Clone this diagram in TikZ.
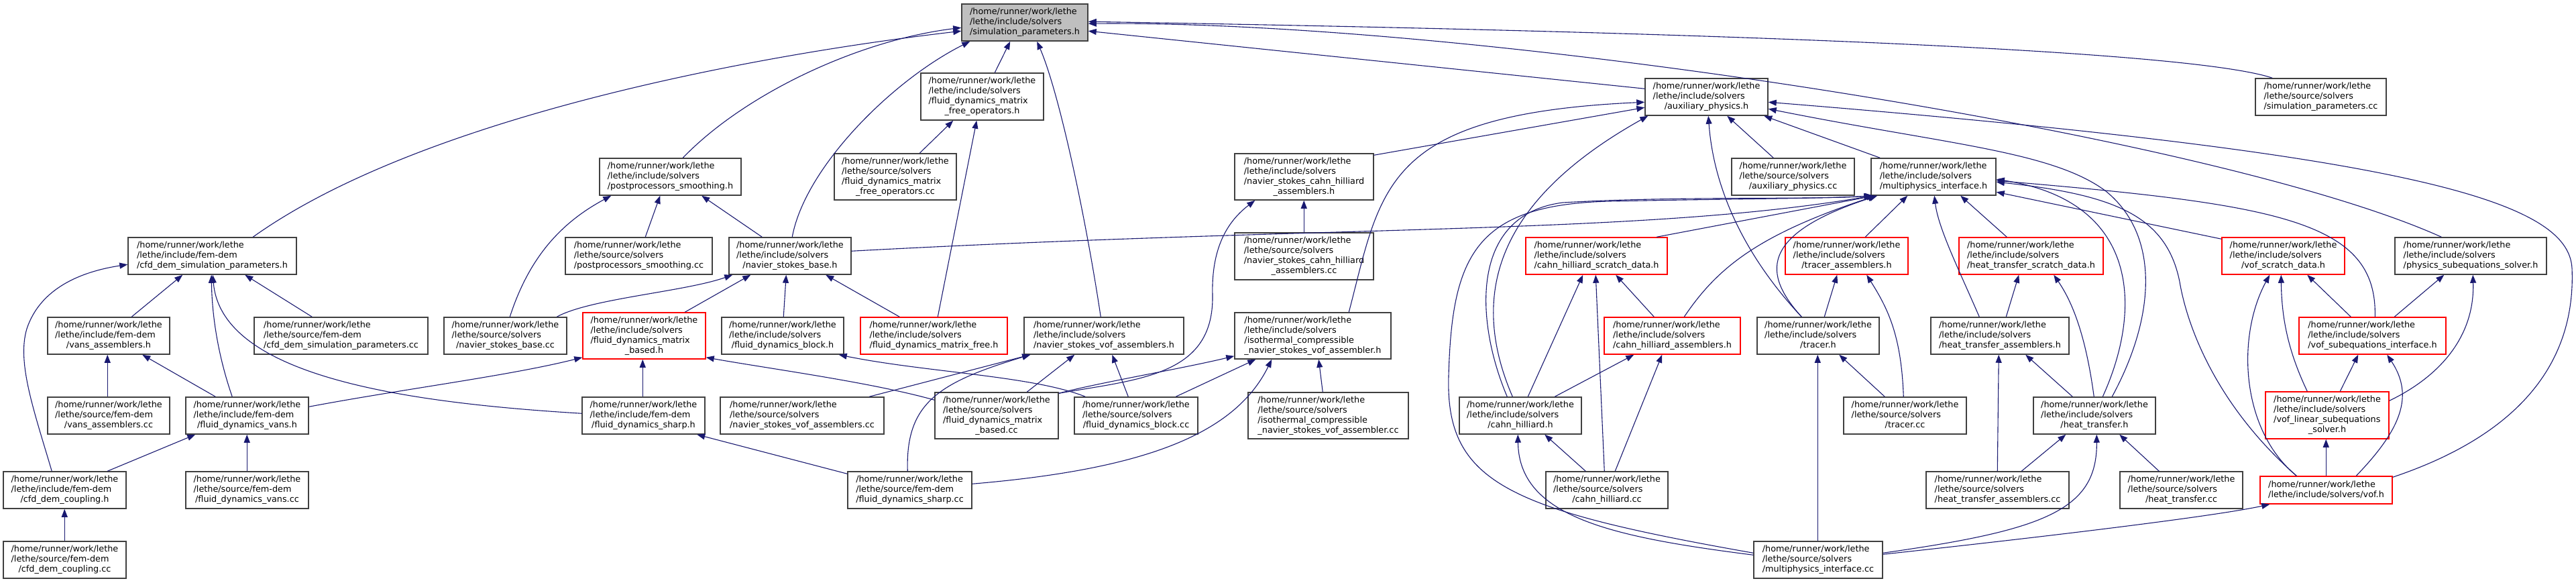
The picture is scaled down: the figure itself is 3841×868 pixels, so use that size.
\documentclass[tikz,border=0pt]{standalone}
\usepackage{fontspec}
\setmainfont{DejaVu Sans}
\usetikzlibrary{arrows.meta,calc}
\definecolor{edgeblue}{HTML}{191970}
\definecolor{nodegray}{HTML}{404040}
\definecolor{rootgray}{HTML}{BFBFBF}
\newcommand\hrw{/home/runner/work/lethe}
\newcommand\lis{/lethe/include/solvers}
\newcommand\lss{/lethe/source/solvers}
\newcommand\lif{/lethe/include/fem-dem}
\newcommand\lsf{/lethe/source/fem-dem}
\newcommand\labtwo[2]{\begin{tabular}{@{}l@{}}#1\\\multicolumn{1}{@{}c@{}}{#2}\end{tabular}}
\newcommand\labthree[2]{\begin{tabular}{@{}l@{}}\hrw\\#1\\\multicolumn{1}{@{}c@{}}{#2}\end{tabular}}
\newcommand\labfour[3]{\begin{tabular}{@{}l@{}}\hrw\\#1\\#2\\\multicolumn{1}{@{}c@{}}{#3}\end{tabular}}
\tikzset{
  nb/.style={rectangle, draw=nodegray, line width=1.5pt, fill=white, inner sep=0pt,
             font=\fontsize{12.8}{15}\selectfont},
  nr/.style={nb, draw=red},
  ng/.style={nb, fill=rootgray},
  edge/.style={draw=edgeblue, line width=1.1pt, -{Triangle[length=12pt,width=9pt]}},
}
\begin{document}
\begin{tikzpicture}[x=1pt,y=-1pt]
\useasboundingbox (0,0) rectangle (3841,868);
% ---------------- nodes
\node[ng, minimum width=188pt, minimum height=55pt] (SP) at (1528,33.5) {\labthree{\lis}{/simulation\_parameters.h}};
\node[nb, minimum width=251pt, minimum height=55pt] (CDSPh) at (316.5,381.5) {\labthree{\lif}{/cfd\_dem\_simulation\_parameters.h}};
\node[nb, minimum width=211pt, minimum height=55pt] (PSh) at (999.5,263.5) {\labthree{\lis}{/postprocessors\_smoothing.h}};
\node[nb, minimum width=219pt, minimum height=55pt] (PScc) at (952.5,381.5) {\labthree{\lss}{/postprocessors\_smoothing.cc}};
\node[nb, minimum width=182pt, minimum height=55pt] (NSBh) at (1178,381.5) {\labthree{\lis}{/navier\_stokes\_base.h}};
\node[nb, minimum width=183pt, minimum height=70pt] (FDMFOh) at (1464.5,144) {\labfour{\lis}{/fluid\_dynamics\_matrix}{\_free\_operators.h}};
\node[nb, minimum width=182pt, minimum height=69pt] (FDMFOcc) at (1335,263.5) {\labfour{\lss}{/fluid\_dynamics\_matrix}{\_free\_operators.cc}};
\node[nb, minimum width=183pt, minimum height=55pt] (APh) at (2544.5,144.5) {\labthree{\lis}{/auxiliary\_physics.h}};
\node[nb, minimum width=207pt, minimum height=69pt] (NSCHAh) at (1944.5,263.5) {\labfour{\lis}{/navier\_stokes\_cahn\_hilliard}{\_assemblers.h}};
\node[nb, minimum width=207pt, minimum height=70pt] (NSCHAcc) at (1944.5,382) {\labfour{\lss}{/navier\_stokes\_cahn\_hilliard}{\_assemblers.cc}};
\node[nb, minimum width=183pt, minimum height=55pt] (APcc) at (2673.5,263.5) {\labthree{\lss}{/auxiliary\_physics.cc}};
\node[nb, minimum width=186pt, minimum height=55pt] (MIh) at (2883,263.5) {\labthree{\lis}{/multiphysics\_interface.h}};
\node[nb, minimum width=195pt, minimum height=55pt] (SPcc) at (3460.5,144.5) {\labthree{\lss}{/simulation\_parameters.cc}};
\node[nr, minimum width=211pt, minimum height=55pt] (CHSDh) at (2380.5,381.5) {\labthree{\lis}{/cahn\_hilliard\_scratch\_data.h}};
\node[nr, minimum width=183pt, minimum height=55pt] (TRAh) at (2753.5,381.5) {\labthree{\lis}{/tracer\_assemblers.h}};
\node[nr, minimum width=215pt, minimum height=55pt] (HTSDh) at (3028.5,381.5) {\labthree{\lis}{/heat\_transfer\_scratch\_data.h}};
\node[nr, minimum width=183pt, minimum height=55pt] (VSDh) at (3404.5,381.5) {\labthree{\lis}{/vof\_scratch\_data.h}};
\node[nb, minimum width=226pt, minimum height=55pt] (PSSh) at (3684,381.5) {\labthree{\lis}{/physics\_subequations\_solver.h}};
\node[nb, minimum width=182pt, minimum height=55pt] (VAh) at (162,500.5) {\labthree{\lif}{/vans\_assemblers.h}};
\node[nb, minimum width=259pt, minimum height=55pt] (CDSPcc) at (508.5,500.5) {\labthree{\lsf}{/cfd\_dem\_simulation\_parameters.cc}};
\node[nb, minimum width=183pt, minimum height=55pt] (NSBcc) at (753.5,500.5) {\labthree{\lss}{/navier\_stokes\_base.cc}};
\node[nr, minimum width=183pt, minimum height=69pt] (FDMBh) at (960.5,500.5) {\labfour{\lis}{/fluid\_dynamics\_matrix}{\_based.h}};
\node[nb, minimum width=182pt, minimum height=55pt] (FDBh) at (1167,500.5) {\labthree{\lis}{/fluid\_dynamics\_block.h}};
\node[nr, minimum width=219pt, minimum height=55pt] (FDMFh) at (1392.5,500.5) {\labthree{\lis}{/fluid\_dynamics\_matrix\_free.h}};
\node[nb, minimum width=238pt, minimum height=55pt] (NSVAh) at (1646,500.5) {\labthree{\lis}{/navier\_stokes\_vof\_assemblers.h}};
\node[nb, minimum width=233pt, minimum height=69pt] (ICh) at (1957.5,500.5) {\labfour{\lis}{/isothermal\_compressible}{\_navier\_stokes\_vof\_assembler.h}};
\node[nr, minimum width=203pt, minimum height=55pt] (CHAh) at (2493.5,500.5) {\labthree{\lis}{/cahn\_hilliard\_assemblers.h}};
\node[nb, minimum width=182pt, minimum height=55pt] (TRh) at (2711,500.5) {\labthree{\lis}{/tracer.h}};
\node[nb, minimum width=206pt, minimum height=55pt] (HTAh) at (2982,500.5) {\labthree{\lis}{/heat\_transfer\_assemblers.h}};
\node[nr, minimum width=219pt, minimum height=55pt] (VSIh) at (3537.5,500.5) {\labthree{\lis}{/vof\_subequations\_interface.h}};
\node[nb, minimum width=182pt, minimum height=55pt] (VAcc) at (162,619.5) {\labthree{\lsf}{/vans\_assemblers.cc}};
\node[nb, minimum width=183pt, minimum height=55pt] (FDVh) at (368.5,619.5) {\labthree{\lif}{/fluid\_dynamics\_vans.h}};
\node[nb, minimum width=183pt, minimum height=55pt] (FDSh) at (959.5,619.5) {\labthree{\lif}{/fluid\_dynamics\_sharp.h}};
\node[nb, minimum width=244pt, minimum height=55pt] (NSVAcc) at (1196,619.5) {\labthree{\lss}{/navier\_stokes\_vof\_assemblers.cc}};
\node[nb, minimum width=184pt, minimum height=69pt] (FDMBcc) at (1486,619.5) {\labfour{\lss}{/fluid\_dynamics\_matrix}{\_based.cc}};
\node[nb, minimum width=184pt, minimum height=55pt] (FDBcc) at (1694,619.5) {\labthree{\lss}{/fluid\_dynamics\_block.cc}};
\node[nb, minimum width=239pt, minimum height=69pt] (ICcc) at (1980.5,619.5) {\labfour{\lss}{/isothermal\_compressible}{\_navier\_stokes\_vof\_assembler.cc}};
\node[nb, minimum width=182pt, minimum height=55pt] (CHh) at (2267,619.5) {\labthree{\lis}{/cahn\_hilliard.h}};
\node[nb, minimum width=183pt, minimum height=55pt] (TRcc) at (2840.5,619.5) {\labthree{\lss}{/tracer.cc}};
\node[nb, minimum width=182pt, minimum height=55pt] (HTh) at (3123,619.5) {\labthree{\lis}{/heat\_transfer.h}};
\node[nr, minimum width=184pt, minimum height=70pt] (VLSh) at (3470,619) {\labfour{\lis}{/vof\_linear\_subequations}{\_solver.h}};
\node[nb, minimum width=183pt, minimum height=55pt] (CDCh) at (96.5,730.5) {\labthree{\lif}{/cfd\_dem\_coupling.h}};
\node[nb, minimum width=183pt, minimum height=55pt] (FDVcc) at (368.5,730.5) {\labthree{\lsf}{/fluid\_dynamics\_vans.cc}};
\node[nb, minimum width=185pt, minimum height=55pt] (FDScc) at (1356.5,730.5) {\labthree{\lsf}{/fluid\_dynamics\_sharp.cc}};
\node[nb, minimum width=182pt, minimum height=55pt] (CHcc) at (2396,730.5) {\labthree{\lss}{/cahn\_hilliard.cc}};
\node[nb, minimum width=213pt, minimum height=55pt] (HTAcc) at (2978.5,730.5) {\labthree{\lss}{/heat\_transfer\_assemblers.cc}};
\node[nb, minimum width=183pt, minimum height=55pt] (HTcc) at (3252.5,730.5) {\labthree{\lss}{/heat\_transfer.cc}};
\node[nr, minimum width=197pt, minimum height=41pt] (VOFh) at (3468.5,730.5) {\labtwo{\hrw}{/lethe/include/solvers/vof.h}};
\node[nb, minimum width=183pt, minimum height=55pt] (CDCcc) at (96.5,834.5) {\labthree{\lsf}{/cfd\_dem\_coupling.cc}};
\node[nb, minimum width=192pt, minimum height=55pt] (MIcc) at (2711,834.5) {\labthree{\lss}{/multiphysics\_interface.cc}};
% ---------------- edges into simulation_parameters.h
\draw[edge] ($(CDSPh.north west)+(187,0)$) .. controls (620,180) and (1100,85) .. ($(SP.north west)+(0,41)$);
\draw[edge] ($(PSh.north west)+(125,0)$) .. controls (1110,140) and (1280,60) .. ($(SP.north west)+(0,36)$);
\draw[edge] ($(NSBh.north west)+(95,0)$) .. controls (1200,250) and (1330,120) .. ($(SP.south west)+(13,0)$);
\draw[edge] ($(FDMFOh.north west)+(111,0)$) -- ($(SP.south west)+(73,0)$);
\draw[edge] ($(NSVAh.north west)+(115,0)$) .. controls (1620,330) and (1580,140) .. ($(SP.south west)+(113,0)$);
\draw[edge] ($(APh.north west)+(0,16)$) -- ($(SP.north east)+(0,41)$);
\draw[edge] ($(SPcc.north west)+(26,0)$) .. controls (3250,70) and (2400,45) .. ($(SP.north east)+(0,27)$);
\draw[edge] ($(PSSh.north west)+(70,0)$) .. controls (3300,200) and (2200,30) .. ($(SP.north east)+(0,30)$);
% ---------------- edges into auxiliary_physics.h
\draw[edge] ($(ICh.north west)+(171,0)$) .. controls (2060,280) and (2060,170) .. ($(APh.north west)+(0,36)$);
\draw[edge] ($(NSCHAh.north east)+(0,3)$) -- ($(APh.north west)+(0,44)$);
\draw[edge] ($(CHh.north west)+(80,0)$) .. controls (2190,440) and (2230,300) .. ($(APh.south west)+(5,0)$);
\draw[edge] ($(TRh.north west)+(67,0)$) .. controls (2600,380) and (2555,280) .. ($(APh.south west)+(95,0)$);
\draw[edge] ($(APcc.north west)+(63,0)$) -- ($(APh.south west)+(123,0)$);
\draw[edge] ($(MIh.north west)+(14,0)$) -- ($(APh.south west)+(178,0)$);
\draw[edge] ($(HTh.north west)+(118,0)$) .. controls (3215,470) and (3220,350) .. (3140,285) .. controls (3060,225) and (2900,215) .. ($(APh.north east)+(0,46)$);
\draw[edge] ($(VOFh.north east)+(0,2)$) .. controls (3780,640) and (3840,520) .. (3835,400) .. controls (3830,300) and (3600,230) .. ($(APh.north east)+(0,36)$);
% ---------------- edges into multiphysics_interface.h
\draw[edge] ($(NSBh.north east)+(0,21)$) .. controls (2000,335) and (2450,350) .. ($(MIh.south west)+(3,0)$);
\draw[edge] ($(CHh.north west)+(72,0)$) .. controls (2200,480) and (2190,320) .. (2330,302) .. controls (2500,292) and (2700,298) .. ($(MIh.south west)+(4,0)$);
\draw[edge] ($(MIcc.north west)+(0,18)$) .. controls (2250,760) and (2155,720) .. (2160,560) .. controls (2165,380) and (2200,305) .. (2400,300) .. controls (2600,296) and (2720,296) .. ($(MIh.south west)+(2,0)$);
\draw[edge] ($(CHSDh.north west)+(196,0)$) -- ($(MIh.south west)+(6,0)$);
\draw[edge] ($(CHAh.north west)+(120,0)$) .. controls (2560,400) and (2620,350) .. ($(MIh.south west)+(8,0)$);
\draw[edge] ($(TRh.north west)+(67,0)$) .. controls (2630,410) and (2620,350) .. ($(MIh.south west)+(10,0)$);
\draw[edge] ($(TRAh.north west)+(120,0)$) -- ($(MIh.south west)+(55,0)$);
\draw[edge] ($(HTAh.north west)+(73,0)$) .. controls (2920,400) and (2890,340) .. ($(MIh.south west)+(95,0)$);
\draw[edge] ($(HTSDh.north west)+(72,0)$) -- ($(MIh.south west)+(134,0)$);
\draw[edge] ($(HTh.north west)+(104,0)$) .. controls (3195,460) and (3190,300) .. ($(MIh.north east)+(0,32)$);
\draw[edge] ($(VOFh.north west)+(55,0)$) .. controls (3300,600) and (3260,480) .. (3250,420) .. controls (3230,320) and (3150,290) .. ($(MIh.north east)+(0,36)$);
\draw[edge] ($(VSIh.north west)+(114,0)$) .. controls (3545,330) and (3400,305) .. ($(MIh.north east)+(0,34)$);
\draw[edge] ($(VSDh.north west)+(0,3)$) -- ($(MIh.north east)+(0,51)$);
% ---------------- other edges
\draw[edge] ($(FDMFOcc.north west)+(128,0)$) -- ($(FDMFOh.south west)+(49,0)$);
\draw[edge] ($(FDMFh.north west)+(116,0)$) -- ($(FDMFOh.south west)+(84,0)$);
\draw[edge] ($(PScc.north west)+(120,0)$) -- ($(PSh.south west)+(91,0)$);
\draw[edge] ($(NSBh.north west)+(50,0)$) -- ($(PSh.south west)+(153,0)$);
\draw[edge] ($(NSBcc.north west)+(99,0)$) .. controls (790,380) and (840,330) .. ($(PSh.south west)+(18,0)$);
\draw[edge] ($(NSCHAcc.north west)+(104,0)$) -- ($(NSCHAh.south west)+(104,0)$);
\draw[edge] ($(FDMBcc.north east)+(0,2)$) .. controls (1700,565) and (1810,560) .. (1808,440) .. controls (1806,370) and (1830,330) .. ($(NSCHAh.south west)+(31,0)$);
\draw[edge] ($(CDCh.north west)+(73,0)$) .. controls (50,610) and (25,540) .. (40,490) .. controls (60,430) and (120,405) .. ($(CDSPh.north west)+(0,41)$);
\draw[edge] ($(VAh.north west)+(126,0)$) -- ($(CDSPh.south west)+(82,0)$);
\draw[edge] ($(FDVh.north west)+(70,0)$) .. controls (325,530) and (316,470) .. ($(CDSPh.south west)+(125,0)$);
\draw[edge] ($(FDSh.north west)+(0,25)$) .. controls (600,600) and (330,560) .. ($(CDSPh.south west)+(127,0)$);
\draw[edge] ($(CDSPcc.north west)+(87,0)$) -- ($(CDSPh.south west)+(175,0)$);
\draw[edge] ($(NSBcc.north west)+(169,0)$) .. controls (880,445) and (1020,435) .. ($(NSBh.south west)+(6,0)$);
\draw[edge] ($(FDMBh.north west)+(153,0)$) -- ($(NSBh.south west)+(33,0)$);
\draw[edge] ($(FDBh.north west)+(93,0)$) -- ($(NSBh.south west)+(86,0)$);
\draw[edge] ($(FDMFh.north west)+(59,0)$) -- ($(NSBh.south west)+(145,0)$);
\draw[edge] ($(CHh.north west)+(103,0)$) -- ($(CHSDh.south west)+(86,0)$);
\draw[edge] ($(CHcc.north west)+(88,0)$) -- ($(CHSDh.south west)+(105,0)$);
\draw[edge] ($(CHAh.north west)+(75,0)$) -- ($(CHSDh.south west)+(135,0)$);
\draw[edge] ($(TRh.north west)+(101,0)$) -- ($(TRAh.south west)+(78,0)$);
\draw[edge] ($(TRcc.north west)+(90,0)$) .. controls (2835,500) and (2815,460) .. ($(TRAh.south west)+(122,0)$);
\draw[edge] ($(HTAh.north west)+(113,0)$) -- ($(HTSDh.south west)+(90,0)$);
\draw[edge] ($(HTh.north west)+(91,0)$) .. controls (3110,500) and (3090,450) .. ($(HTSDh.south west)+(142,0)$);
\draw[edge] ($(VOFh.north west)+(55,0)$) .. controls (3340,640) and (3335,500) .. ($(VSDh.south west)+(72,0)$);
\draw[edge] ($(VLSh.north west)+(63,0)$) .. controls (3410,520) and (3402,470) .. ($(VSDh.south west)+(89,0)$);
\draw[edge] ($(VSIh.north west)+(78,0)$) -- ($(VSDh.south west)+(128,0)$);
\draw[edge] ($(VSIh.north west)+(143,0)$) -- ($(PSSh.south west)+(74,0)$);
\draw[edge] ($(VLSh.north east)+(0,14)$) .. controls (3640,560) and (3690,500) .. ($(PSSh.south west)+(117,0)$);
\draw[edge] ($(VAcc.north west)+(90,0)$) -- ($(VAh.south west)+(90,0)$);
\draw[edge] ($(FDVh.north west)+(45,0)$) -- ($(VAh.south west)+(142,0)$);
\draw[edge] ($(FDVh.north east)+(0,15)$) .. controls (600,580) and (760,560) .. ($(FDMBh.south west)+(0,-3)$);
\draw[edge] ($(FDSh.north west)+(91,0)$) -- ($(FDMBh.south west)+(90,0)$);
\draw[edge] ($(FDMBcc.north west)+(0,12)$) .. controls (1300,570) and (1150,550) .. ($(FDMBh.south east)+(0,-3)$);
\draw[edge] ($(NSVAcc.north west)+(223,0)$) -- ($(NSVAh.south west)+(10,0)$);
\draw[edge] ($(FDScc.north west)+(90,0)$) .. controls (1350,600) and (1400,570) .. ($(NSVAh.south west)+(10,0)$);
\draw[edge] ($(FDMBcc.north west)+(138,0)$) -- ($(NSVAh.south west)+(76,0)$);
\draw[edge] ($(FDBcc.north west)+(81,0)$) -- ($(NSVAh.south west)+(132,0)$);
\draw[edge] ($(FDMBcc.north east)+(0,2)$) .. controls (1640,570) and (1760,550) .. ($(ICh.south west)+(0,-5)$);
\draw[edge] ($(FDBcc.north west)+(152,0)$) -- ($(ICh.south west)+(32,0)$);
\draw[edge] ($(FDScc.north east)+(0,19)$) .. controls (1700,700) and (1840,650) .. ($(ICh.south west)+(56,0)$);
\draw[edge] ($(ICcc.north west)+(112,0)$) -- ($(ICh.south west)+(126,0)$);
\draw[edge] ($(CHh.north west)+(143,0)$) -- ($(CHAh.south west)+(45,0)$);
\draw[edge] ($(CHcc.north west)+(104,0)$) -- ($(CHAh.south west)+(87,0)$);
\draw[edge] ($(TRcc.north west)+(62,0)$) -- ($(TRh.south west)+(123,0)$);
\draw[edge] ($(MIcc.north west)+(96,0)$) -- ($(TRh.south west)+(91,0)$);
\draw[edge] ($(HTAcc.north west)+(107,0)$) -- ($(HTAh.south west)+(102,0)$);
\draw[edge] ($(HTh.north west)+(59,0)$) -- ($(HTAh.south west)+(142,0)$);
\draw[edge] ($(VLSh.north west)+(112,0)$) -- ($(VSIh.south west)+(89,0)$);
\draw[edge] ($(VOFh.north west)+(144,0)$) .. controls (3580,640) and (3600,590) .. ($(VSIh.south west)+(132,0)$);
\draw[edge] ($(CDCh.north west)+(156,0)$) -- ($(FDVh.south west)+(15,0)$);
\draw[edge] ($(FDVcc.north west)+(92,0)$) -- ($(FDVh.south west)+(92,0)$);
\draw[edge] ($(FDScc.north west)+(0,4)$) -- ($(FDSh.south west)+(172,0)$);
\draw[edge] ($(FDBcc.north west)+(17,0)$) .. controls (1540,560) and (1380,555) .. ($(FDBh.south east)+(-8,0)$);
\draw[edge] ($(CDCcc.north west)+(92,0)$) -- ($(CDCh.south west)+(92,0)$);
\draw[edge] ($(MIcc.north west)+(0,21)$) .. controls (2400,800) and (2265,770) .. ($(CHh.south west)+(88,0)$);
\draw[edge] ($(CHcc.north west)+(60,0)$) -- ($(CHh.south west)+(128,0)$);
\draw[edge] ($(HTAcc.north west)+(143,0)$) -- ($(HTh.south west)+(49,0)$);
\draw[edge] ($(HTcc.north west)+(59,0)$) -- ($(HTh.south west)+(129,0)$);
\draw[edge] ($(MIcc.north east)+(0,18)$) .. controls (3050,790) and (3127,760) .. ($(HTh.south west)+(95,0)$);
\draw[edge] ($(VOFh.north west)+(99,0)$) -- ($(VLSh.south west)+(91,0)$);
\draw[edge] ($(MIcc.north east)+(0,20)$) .. controls (3050,800) and (3300,770) .. ($(VOFh.south west)+(15,0)$);
\end{tikzpicture}
\end{document}
